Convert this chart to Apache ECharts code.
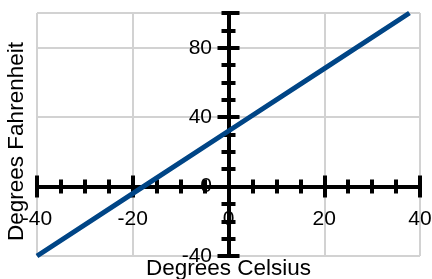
<!DOCTYPE html>
<html>
<head>
<meta charset="utf-8">
<script src="https://cdn.jsdelivr.net/npm/echarts@6/dist/echarts.min.js"></script>
<style>
  html, body { margin: 0; padding: 0; background: #ffffff; }
  #chart { width: 432px; height: 279px; }
</style>
</head>
<body>
<div id="chart"></div>
<script>
// values
const celsius = [-40, -17.8, 0, 20, 37.8];
const fahrenheit = [-40, 0, 32, 68, 100];
const xTicks = [-40, -20, 0, 20, 40];
const yTicks = [-40, 0, 40, 80];

const font = "'Liberation Sans', Arial, sans-serif";
const black = "#000000";
const gridGray = "#d2d2d2";

// x axis: one set of ticks going down, one going up (cross ticks)
// labels and name are laid out from the grid edge, so margins are negative
function makeX(inside, main) {
  return {
    type: "value",
    position: "bottom",
    min: xTicks[0],
    max: xTicks[xTicks.length - 1],
    interval: xTicks[1] - xTicks[0],
    axisLine: { show: true, onZero: true, onZeroAxisIndex: 0, lineStyle: { color: black, width: 4 } },
    axisTick: { show: true, inside: inside, length: 11, lineStyle: { color: black, width: 4 } },
    minorTick: { show: true, splitNumber: 4, length: 7, lineStyle: { color: black, width: 4 } },
    axisLabel: { show: main, color: black, fontSize: 21, fontFamily: font, margin: -47 },
    splitLine: { show: main, lineStyle: { color: gridGray, width: 2 } },
    name: main ? "Degrees Celsius" : "",
    nameLocation: "middle",
    nameGap: 1,
    nameTextStyle: { color: black, fontSize: 22.5, fontFamily: font },
  };
}

// y axis: long ticks every 40, short ticks every 10, each on both sides
function makeY(inside, interval, len, main) {
  return {
    type: "value",
    position: "left",
    min: -40,
    max: 100,
    interval: interval,
    axisLine: { show: true, onZero: true, onZeroAxisIndex: 0, lineStyle: { color: black, width: 4 } },
    axisTick: { show: true, inside: inside, length: len, lineStyle: { color: black, width: 4 } },
    axisLabel: {
      show: main,
      color: black,
      fontSize: 21,
      fontFamily: font,
      margin: -175,
      showMaxLabel: false,
      formatter: (v) => (yTicks.indexOf(v) >= 0 ? String(v) : ""),
    },
    splitLine: { show: main, lineStyle: { color: gridGray, width: 2 } },
    name: main ? "Degrees Fahrenheit" : "",
    nameLocation: "middle",
    nameGap: 9,
    nameTextStyle: { color: black, fontSize: 22.5, fontFamily: font, padding: [0, 14, 0, 0] },
  };
}

const points = celsius.map((c, i) => [c, fahrenheit[i]]);

const option = {
  animation: false,
  backgroundColor: "#ffffff",
  grid: { left: 37, right: 12, top: 13, bottom: 23, containLabel: false, outerBoundsMode: "none" },
  xAxis: [makeX(false, true), makeX(true, false)],
  yAxis: [
    makeY(false, 40, 11, true),
    makeY(true, 40, 11, false),
    makeY(false, 10, 7, false),
    makeY(true, 10, 7, false),
  ],
  series: [
    {
      type: "line",
      xAxisIndex: 0,
      yAxisIndex: 0,
      showSymbol: false,
      silent: true,
      lineStyle: { color: "#004586", width: 5 },
      data: points,
    },
  ],
};

const myChart = echarts.init(document.getElementById("chart"));
myChart.setOption(option);
</script>
</body>
</html>
